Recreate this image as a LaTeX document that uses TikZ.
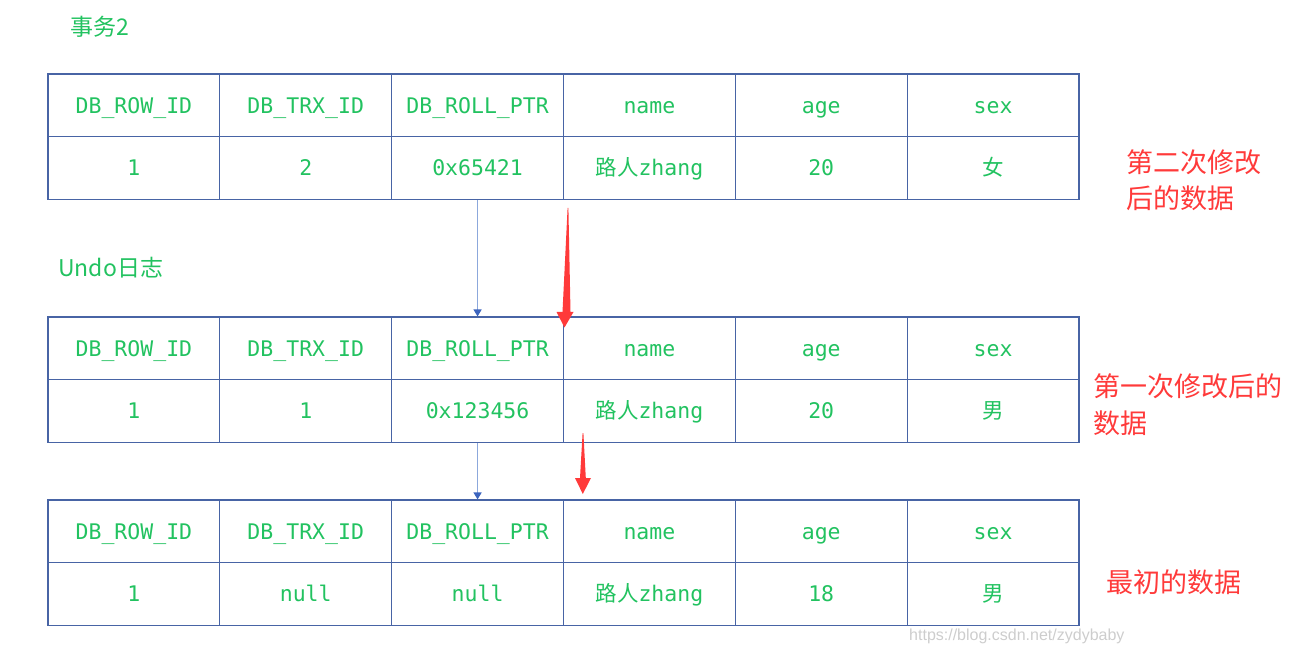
\documentclass[tikz,border=0pt]{standalone}
\usepackage{fontspec}
\setmainfont{Noto Sans CJK SC}
\newfontfamily\cellmono{DejaVu Sans Mono}
\newfontfamily\cjkfont{Noto Sans CJK SC}
\newfontfamily\wmfont{Liberation Sans}
\usetikzlibrary{arrows.meta}
\definecolor{tgreen}{RGB}{34,194,96}
\definecolor{tred}{RGB}{255,58,58}
\definecolor{tborder}{RGB}{72,100,165}
\definecolor{tline}{RGB}{140,168,220}
\definecolor{thead}{RGB}{60,100,190}
\definecolor{twm}{RGB}{205,205,205}
\newcommand{\lrz}{{\cjkfont 路人}zhang}
\tikzset{
  cell/.style={draw=tborder, line width=1.1pt, minimum width=171.83pt, minimum height=62.8pt,
    inner sep=0pt, text height=15.5pt, text depth=0pt, text=tgreen, font=\cellmono\fontsize{21.5}{24}\selectfont},
  greenlabel/.style={anchor=west, inner sep=0pt, text=tgreen, font=\cjkfont\fontsize{23}{26}\selectfont},
  redlabel/.style={anchor=west, inner sep=0pt, text=tred, align=left, font=\cjkfont\fontsize{27}{36.5}\selectfont},
  ptrarrow/.style={draw=tline, line width=1.2pt, -{Triangle[length=7pt,width=8pt,color=thead]}},
  redarrow/.style={fill=tred, draw=none}
}
\begin{document}
\begin{tikzpicture}[x=1pt,y=-1pt]
\useasboundingbox (0,0) rectangle (1294,652);
% tables
\foreach \t/\ty in {1/74,2/317,3/500} {
  \foreach \h [count=\c] in {DB\_ROW\_ID, DB\_TRX\_ID, DB\_ROLL\_PTR, name, age, sex} {
    \node[cell] (t\t-1-\c) at ({48+171.83*(\c-0.5)}, {\ty+31.4}) {\h};
  }
}
\foreach \v [count=\c] in {1, 2, 0x65421, \lrz, 20, {\cjkfont 女}} {
  \node[cell] (t1-2-\c) at ({48+171.83*(\c-0.5)}, {74+94.2}) {\v};
}
\foreach \v [count=\c] in {1, 1, 0x123456, \lrz, 20, {\cjkfont 男}} {
  \node[cell] (t2-2-\c) at ({48+171.83*(\c-0.5)}, {317+94.2}) {\v};
}
\foreach \v [count=\c] in {1, null, null, \lrz, 18, {\cjkfont 男}} {
  \node[cell] (t3-2-\c) at ({48+171.83*(\c-0.5)}, {500+94.2}) {\v};
}
% labels
\node[greenlabel] (lbltrx) at (70,27) {事务2};
\node[greenlabel] (lblundo) at (58,268) {Undo日志};
\node[redlabel] (lbl2) at (1126,180) {第二次修改\\后的数据};
\node[redlabel] (lbl1) at (1093,404.5) {第一次修改后的\\数据};
\node[redlabel] (lbl0) at (1106,582) {最初的数据};
\node[anchor=west, inner sep=0pt, text=twm, font=\wmfont\fontsize{16}{18}\selectfont] (wm) at (909,636) {https://blog.csdn.net/zydybaby};
% pointer arrows
\draw[ptrarrow] (t1-2-3.south) -- (t2-1-3.north);
\draw[ptrarrow] (t2-2-3.south) -- (t3-1-3.north);
% red arrows
\fill[redarrow] (567.6,208) -- (568.4,208) -- (570.5,312) -- (573.5,312) -- (564.5,327.5) -- (556.5,312) -- (562.5,312) -- cycle;
\fill[redarrow] (582.6,433) -- (583.4,433) -- (585.8,478) -- (591,478) -- (582.8,494) -- (575,478) -- (580,478) -- cycle;
\end{tikzpicture}
\end{document}
